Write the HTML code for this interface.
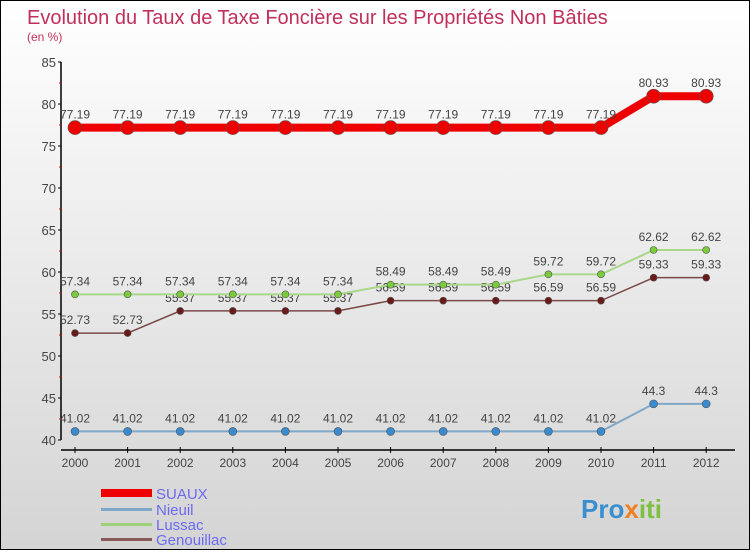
<!DOCTYPE html>
<html><head><meta charset="utf-8"><style>
html,body{margin:0;padding:0}
body{width:750px;height:550px;overflow:hidden;font-family:"Liberation Sans",sans-serif}
#c{position:absolute;left:0;top:0;width:748px;height:548px;border:1px solid #000;background:linear-gradient(#ffffff,#d4d4d4)}
</style></head><body>
<div id="c">
<svg id="s" width="748" height="548" xmlns="http://www.w3.org/2000/svg">
<text x="26" y="23" font-size="20" fill="#c0305a">Evolution du Taux de Taxe Foncière sur les Propriétés Non Bâties</text>
<text x="26" y="40" font-size="12" fill="#c0305a">(en %)</text>
<g id="g"></g>
<g>
<rect x="100" y="488" width="51" height="8" fill="#e00"/>
<text x="155" y="498" font-size="15" fill="#6a6af0">SUAUX</text>
<rect x="100" y="507" width="51" height="3" fill="#7fa8c8"/>
<text x="155" y="514" font-size="15" fill="#6a6af0">Nieuil</text>
<rect x="100" y="522" width="51" height="3" fill="#9ed07a"/>
<text x="155" y="529" font-size="15" fill="#6a6af0">Lussac</text>
<rect x="100" y="537" width="51" height="3" fill="#8a5a5a"/>
<text x="155" y="544" font-size="15" fill="#6a6af0">Genouillac</text>
</g>
<text x="580" y="517" font-size="26" font-weight="bold" fill="#3a8fd0">Pro<tspan fill="#f08020">x</tspan><tspan fill="#80c040">iti</tspan></text>
</svg>
</div>
<script>
const years=[2000,2001,2002,2003,2004,2005,2006,2007,2008,2009,2010,2011,2012];
const suaux=[77.19,77.19,77.19,77.19,77.19,77.19,77.19,77.19,77.19,77.19,77.19,80.93,80.93];
const nieuil=[41.02,41.02,41.02,41.02,41.02,41.02,41.02,41.02,41.02,41.02,41.02,44.3,44.3];
const lussac=[57.34,57.34,57.34,57.34,57.34,57.34,58.49,58.49,58.49,59.72,59.72,62.62,62.62];
const genouillac=[52.73,52.73,55.37,55.37,55.37,55.37,56.59,56.59,56.59,56.59,56.59,59.33,59.33];
const yTicks=[40,45,50,55,60,65,70,75,80,85];
const NS="http://www.w3.org/2000/svg";
const g=document.getElementById('g');
const X=i=>74+i*52.6;
const Y=v=>439-(v-40)*(378/45);
function el(t,a){const e=document.createElementNS(NS,t);for(const k in a)e.setAttribute(k,a[k]);g.appendChild(e);return e;}
let e=el('line',{x1:60,y1:Y(85),x2:60,y2:Y(40),stroke:'#000','stroke-width':1.5});


e=el('line',{x1:60,y1:449,x2:734,y2:449,stroke:'#000','stroke-width':1.5});


yTicks.forEach(v=>{
 el('line',{x1:57,y1:Y(v),x2:60,y2:Y(v),stroke:'#000'});
 if(v<85){const m=el('line',{x1:58,y1:Y(v+2.5),x2:60,y2:Y(v+2.5),stroke:'#e00'});}
 const t=el('text',{x:55,y:Y(v)+5,'font-size':13,'text-anchor':'end',fill:'#444'});
 t.textContent=v;
 
 
});
years.forEach((y,i)=>{
 el('line',{x1:X(i),y1:446,x2:X(i),y2:452,stroke:'#000'});
 const t=el('text',{x:X(i),y:466,'font-size':12,'text-anchor':'middle',fill:'#444'});
 t.textContent=y;
 
 
});
function series(d,name,color,w,r,fill){
 const p=el('polyline',{points:d.map((v,i)=>X(i)+','+Y(v)).join(' '),fill:'none',stroke:color,'stroke-width':w});
 
 
 d.forEach((v,i)=>{
  const c=el('circle',{cx:X(i),cy:Y(v),r:r,fill:fill,stroke:'#555','stroke-width':0.6});
  
  
  const t=el('text',{x:X(i),y:Y(v)-9,'font-size':12,'text-anchor':'middle',fill:'#444'});
  t.textContent=String(v).replace(/\.?0+$/,'').replace('.3','.3');
  
  
 });
}
series(nieuil,'nieuil','#7fa8c8',2,4,'#3a8ad0');
series(genouillac,'genouillac','#7a4a4a',1.5,3.5,'#6a1a1a');
series(lussac,'lussac','#a8d888',2,3.5,'#7acc3a');
series(suaux,'suaux','#e00',8,7,'#e00');
</script>
</body></html>
